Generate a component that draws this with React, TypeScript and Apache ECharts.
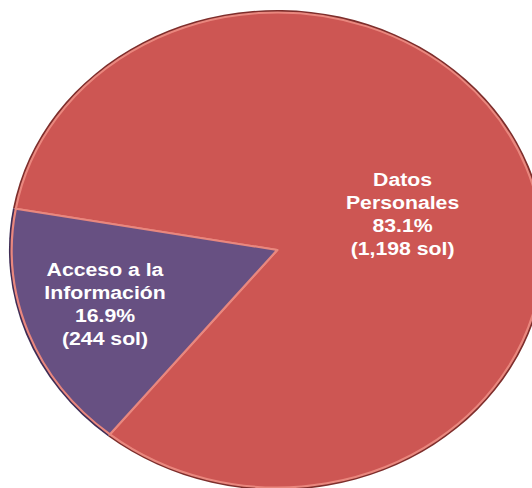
import React, { useEffect, useRef } from "react";
import * as echarts from "echarts";

const categories = ["Datos\nPersonales", "Acceso a la\nInformación"];
const values = [1198, 244];
const colors = ["#CD5653", "#675082"];
const edgeColors = ["#7E2E2C", "#3E2C55"];
const labelOffsets = [[-2, 6], [-40, 11]];

const SX = 1.118;

export default function App() {
  const ref = useRef<HTMLDivElement>(null);
  useEffect(() => {
    if (!ref.current) return;
    const chart = echarts.init(ref.current, undefined, { renderer: "svg" });
    const total = values.reduce((a, b) => a + b, 0);
    chart.setOption({
      animation: false,
      backgroundColor: "#ffffff",
      series: [
        {
          type: "pie",
          silent: true,
          center: [248, 250],
          radius: [0, 240],
          startAngle: 170,
          label: { show: false },
          labelLine: { show: false },
          data: categories.map((c, i) => ({
            name: c,
            value: values[i],
            itemStyle: { color: edgeColors[i] },
          })),
        },
        {
          type: "pie",
          center: [248, 250],
          radius: [0, 237.5],
          startAngle: 170,
          itemStyle: { borderColor: "#E9877E", borderWidth: 2 },
          label: {
            show: true,
            position: "inside",
            color: "#ffffff",
            fontFamily: "Arial, 'Liberation Sans', sans-serif",
            fontWeight: "bold",
            fontSize: 19,
            lineHeight: 23,
            align: "center",
            formatter: (p: any) =>
              `${p.name}\n${((p.value / total) * 100).toFixed(1)}%\n(${p.value.toLocaleString("en-US")} sol)`,
          },
          labelLine: { show: false },
          data: categories.map((c, i) => ({
            name: c,
            value: values[i],
            itemStyle: { color: colors[i] },
            label: { offset: labelOffsets[i] },
          })),
        },
      ],
    });
    return () => chart.dispose();
  }, []);
  return (
    <div
      style={{
        position: "fixed",
        left: 0,
        top: 0,
        width: 532,
        height: 488,
        overflow: "hidden",
        background: "#ffffff",
      }}
    >
      <div
        ref={ref}
        style={{
          width: Math.round(532 / SX),
          height: 488,
          transform: `scaleX(${SX})`,
          transformOrigin: "0 0",
        }}
      />
    </div>
  );
}
